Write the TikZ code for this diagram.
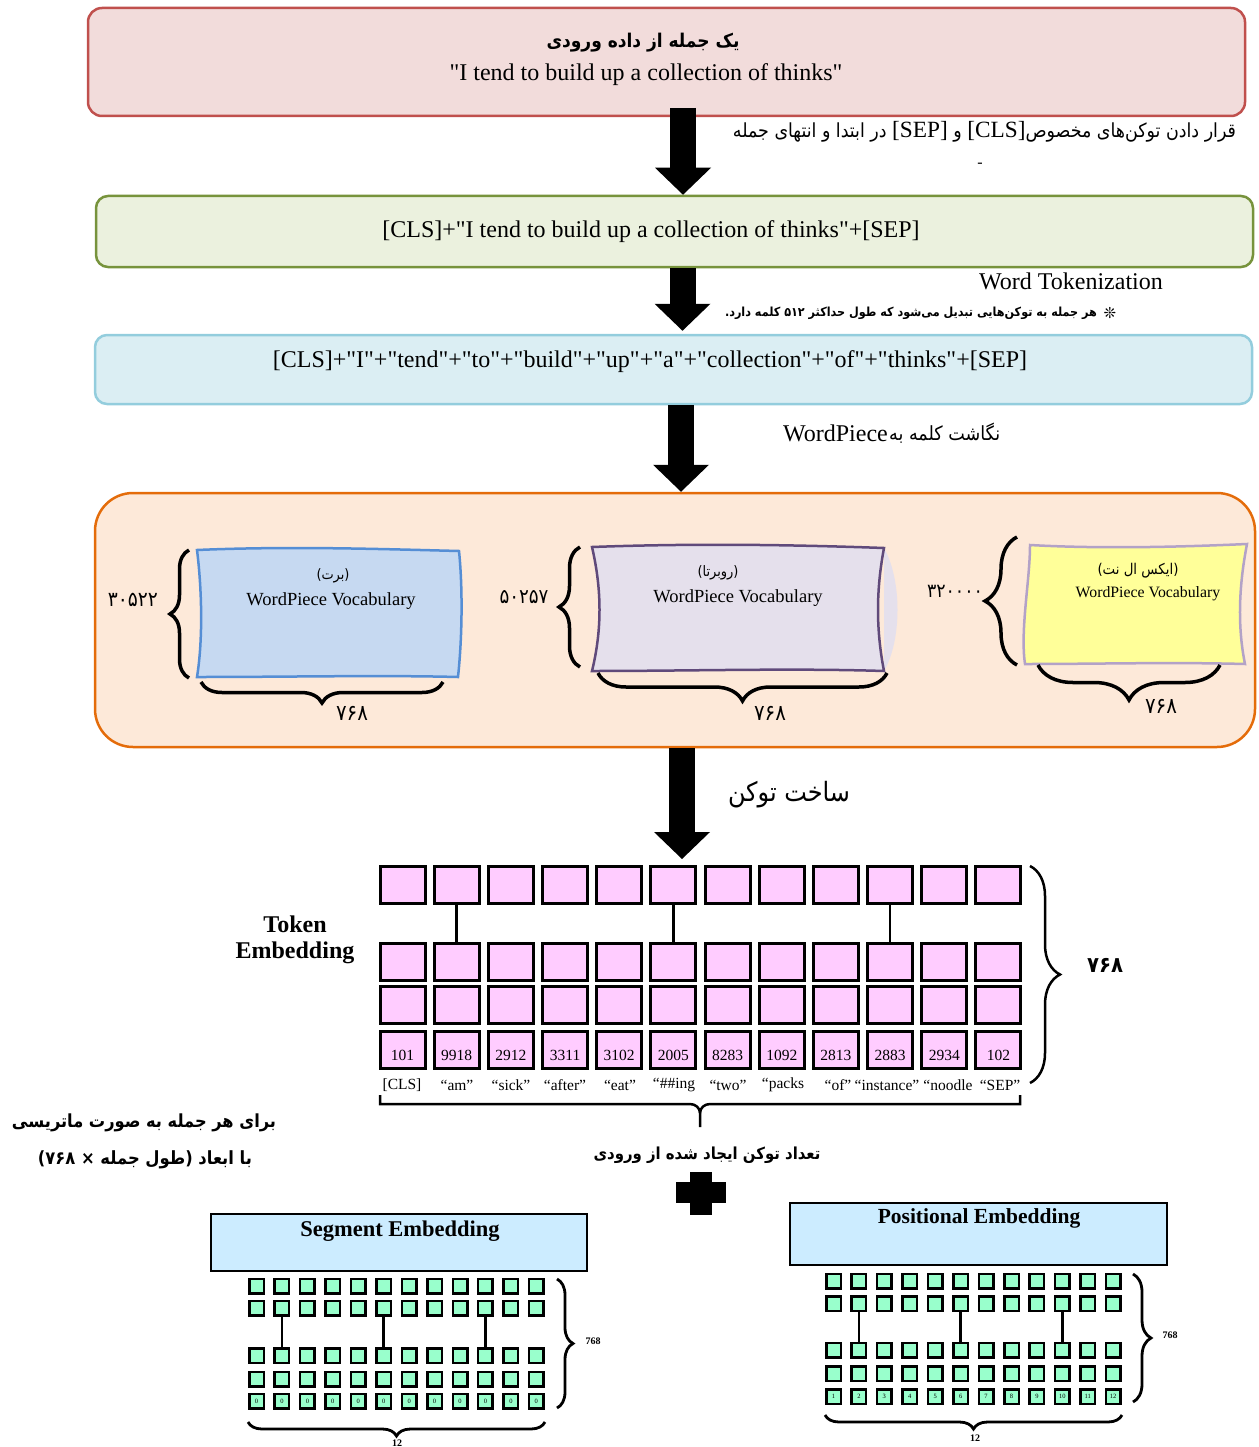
\documentclass[tikz,border=0pt]{standalone}
\usepackage{fontspec}
\usepackage{graphicx}
\setmainfont{Liberation Serif}[Ligatures=TeXOff]
\newfontfamily\fa[Script=Arabic]{DejaVu Sans Condensed}
\newfontfamily\symf{DejaVu Sans}
\TeXXeTstate=1
\usetikzlibrary{arrows.meta,decorations.pathreplacing,calc}
\newcommand\fitw[2]{\resizebox{#1}{!}{#2}}
\definecolor{boxAfill}{HTML}{F2DCDB}
\definecolor{boxAdraw}{HTML}{C0504D}
\definecolor{boxBfill}{HTML}{EBF1DE}
\definecolor{boxBdraw}{HTML}{77933C}
\definecolor{boxCfill}{HTML}{DBEEF3}
\definecolor{boxCdraw}{HTML}{93CDDD}
\definecolor{orfill}{HTML}{FDE9D9}
\definecolor{ordraw}{HTML}{E46C0A}
\definecolor{vbfill}{HTML}{C6D9F1}
\definecolor{vbdraw}{HTML}{558ED5}
\definecolor{vpfill}{HTML}{E5E0EC}
\definecolor{vpdraw}{HTML}{604A7B}
\definecolor{vyfill}{HTML}{FFFF99}
\definecolor{vydraw}{HTML}{B3A2C7}
\definecolor{tokpink}{HTML}{FFCCFF}
\definecolor{cellgreen}{HTML}{99FFCC}
\definecolor{hdrblue}{HTML}{CCECFF}
\begin{document}
\begin{tikzpicture}[x=1pt,y=-1pt,
  box/.style={draw, line width=2.5pt, rounded corners=14pt, inner sep=0pt},
  bigarrow/.style={line width=26pt, -{Triangle[width=56pt,length=27pt,line width=0pt]}},
  tcell/.style={draw, line width=3pt, fill=tokpink, minimum width=45pt, minimum height=37pt, inner sep=0pt},
  gcell/.style={draw, line width=2.5pt, fill=cellgreen, minimum size=14.5pt, inner sep=0pt, font=\fontsize{6.5}{7}\selectfont},
  tnum/.style={inner sep=0pt, font=\fontsize{15.5}{18}\selectfont},
  vbrace/.style={decorate, decoration={brace, amplitude=#1}, line width=3.5pt},
  sbrace/.style={decorate, decoration={brace, amplitude=#1}, line width=2.8pt},
  en/.style={inner sep=0pt, font=\fontsize{24}{28}\selectfont},
  vw/.style={inner sep=0pt, font=\fontsize{18.5}{22}\selectfont},
  small/.style={inner sep=0pt, font=\fontsize{10}{12}\selectfont\bfseries},
  pt/.style={inner sep=0pt}
]
\useasboundingbox (0,0) rectangle (1258,1447);

% ---- top boxes ----
\node[box, draw=boxAdraw, fill=boxAfill, minimum width=1157pt, minimum height=108pt] (b1) at (666.5,62) {};
\node[pt] (b1p) at (643,43) {\fa\bfseries\fitw{193pt}{\beginR یک جمله از داده ورودی\endR}};
\node[en] (b1e) at (646,75) {"I tend to build up a collection of thinks"};

\node[box, draw=boxBdraw, fill=boxBfill, minimum width=1157pt, minimum height=71pt, rounded corners=12pt] (b2) at (674.5,231.5) {};
\node[en] (b2e) at (651,232) {[CLS]+"I tend to build up a collection of thinks"+[SEP]};

\node[box, draw=boxCdraw, fill=boxCfill, minimum width=1157pt, minimum height=69pt, rounded corners=12pt] (b3) at (673.5,369.5) {};
\node[en] (b3e) at (650,362) {[CLS]+"I"+"tend"+"to"+"build"+"up"+"a"+"collection"+"of"+"thinks"+[SEP]};

% annotations
\node[pt] (n1) at (984.5,132) {\fa\fitw{503pt}{\beginR قرار دادن توکن‌های مخصوص\beginL{\rmfamily\fontsize{12}{14}\selectfont[CLS]}\endL{} و \beginL{\rmfamily\fontsize{12}{14}\selectfont[SEP]}\endL{} در ابتدا و انتهای جمله\endR}};
\node[pt, font=\fontsize{16}{18}\selectfont] (n1d) at (980,165) {-};
\node[en] (n2) at (1071,281) {Word Tokenization};
\node[pt] (n3) at (911,313) {\fa\bfseries\fitw{372pt}{\beginR هر جمله به توکن‌هایی تبدیل می‌شود که طول حداکثر ۵۱۲ کلمه دارد.\endR}};
\node[pt, font=\fontsize{15}{16}\selectfont\symf\bfseries] (n3s) at (1110,313) {❊};
\node[en, anchor=east] (n4a) at (888,433) {WordPiece};
\node[pt, anchor=west] (n4b) at (889,433) {\fa\fitw{111pt}{\beginR نگاشت کلمه به\endR}};

% ---- vocab container ----
\node[draw=ordraw, fill=orfill, line width=2.5pt, rounded corners=38pt, minimum width=1160pt, minimum height=254pt, inner sep=0pt] (orb) at (675,620) {};

% blue
\draw[line width=2.5pt, draw=vbdraw, fill=vbfill] (197,550) .. controls (290,546) and (380,549) .. (459,551) .. controls (463,590) and (462,640) .. (458,677) .. controls (380,675) and (290,677) .. (197,677) .. controls (203,640) and (202,590) .. (197,550) -- cycle;
\node[pt] (vb1) at (333,576) {\fa\fitw{33pt}{\beginR (برت)\endR}};
\node[vw] (vb2) at (331,601) {WordPiece Vocabulary};
\draw[vbrace=19pt] (189,678) -- (189,550);
\node[pt] (vbn) at (133,600) {\fa\fitw{50pt}{۳۰۵۲۲}};
\draw[vbrace=21pt] (443,682) -- (201,682);
\node[pt] (vbm) at (352,713) {\fa\fitw{32pt}{۷۶۸}};

% purple
\fill[vpfill] (884,548) .. controls (902,580) and (902,640) .. (884,671) -- cycle;
\draw[line width=2.5pt, draw=vpdraw, fill=vpfill] (592,547) .. controls (700,543) and (800,545) .. (884,548) .. controls (876,590) and (876,630) .. (884,671) .. controls (790,668) and (690,671) .. (592,671) .. controls (602,630) and (602,590) .. (592,547) -- cycle;
\node[pt] (vp1) at (718,573) {\fa\fitw{41pt}{\beginR (روبرتا)\endR}};
\node[vw] (vp2) at (738,598) {WordPiece Vocabulary};
\draw[vbrace=21pt] (580,667) -- (580,547);
\node[pt] (vpn) at (524,597) {\fa\fitw{49pt}{۵۰۲۵۷}};
\draw[vbrace=28pt] (887,673) -- (598,673);
\node[pt] (vpm) at (770,713) {\fa\fitw{32pt}{۷۶۸}};

% yellow
\draw[line width=2.5pt, draw=vydraw, fill=vyfill] (1030,545) .. controls (1100,549) and (1180,547) .. (1247,544) .. controls (1238,590) and (1238,630) .. (1245,664) .. controls (1170,662) and (1100,664) .. (1025,664) .. controls (1020,630) and (1030,580) .. (1030,545) -- cycle;
\node[pt] (vy1) at (1138,571) {\fa\fitw{81pt}{\beginR (ایکس ال نت)\endR}};
\node[pt, font=\fontsize{15.8}{18}\selectfont] (vy2) at (1148,594) {WordPiece Vocabulary};
\draw[vbrace=32pt] (1017,665) -- (1017,537);
\node[pt] (vyn) at (955,591) {\fa\fitw{56pt}{۳۲۰۰۰۰}};
\draw[vbrace=35pt] (1220,665) -- (1038,665);
\node[pt] (vym) at (1161,706) {\fa\fitw{32pt}{۷۶۸}};

% ---- arrows ----
\coordinate (a1s) at (683,108);
\coordinate (a2x) at (682.5,0);
\coordinate (a3x) at (681,0);
\coordinate (a4x) at (682,0);
\draw[bigarrow] (a1s) -- (a1s |- b2.north);
\draw[bigarrow] (a2x |- b2.south) -- ($(a2x |- b3.north)+(0,-3)$);
\draw[bigarrow] (a3x |- b3.south) -- (a3x |- orb.north);
\node[pt] (n5) at (789,795) {\fa\fitw{122pt}{\beginR ساخت توکن\endR}};

% ---- token embedding grid ----
\foreach \r/\yy in {1/885,2/961.5,3/1005,4/1050}{
  \foreach \c in {1,...,12}{
    \node[tcell] (t\r-\c) at ({402.5+54.18*(\c-1)},\yy) {};
  }
}
\draw[bigarrow] (a4x |- orb.south) -- ($(a4x |- t1-6.north)+(0,-6)$);
\foreach \c in {2,6,10}{
  \draw[line width=2.5pt] (t1-\c.south) -- (t2-\c.north);
}
\foreach \c/\n in {1/101,2/9918,3/2912,4/3311,5/3102,6/2005,7/8283,8/1092,9/2813,10/2883,11/2934,12/102}{
  \node[tnum] (tn\c) at ({402.5+54.18*(\c-1)},1055) {\n};
}
\foreach \c/\s/\xx in {1/{[CLS]}/402,2/{“am”}/457,3/{“sick”}/511,4/{“after”}/565,5/{“eat”}/620,6/{“\#\#ing}/674,7/{“two”}/728,8/{“packs}/783,9/{“of”}/838,10/{“instance”}/887,11/{“noodle}/948,12/{“SEP”}/1000}{
  \node[tnum] (tl\c) at (\xx,1085) {\s};
}
\node[align=center, font=\fontsize{24}{26}\selectfont\bfseries, inner sep=0pt] (te) at (295,940) {Token\\Embedding};
\draw[sbrace=30pt, line width=2.5pt] (1030,866) -- (1030,1083);
\node[pt] (t768) at (1105,965) {\fa\bfseries\fitw{36pt}{۷۶۸}};
\draw[line width=2.5pt] (380,1095) |- (690,1104) to[out=0,in=90] (700,1113) -- (700,1127);
\draw[line width=2.5pt] (1020,1095) |- (710,1104) to[out=180,in=90] (700,1113);

% left persian notes
\node[pt] (l1) at (144,1123) {\fa\bfseries\fitw{264pt}{\beginR برای هر جمله به صورت ماتریسی\endR}};
\node[pt] (l2) at (145,1160) {\fa\bfseries\fitw{214pt}{\beginR با ابعاد (طول جمله × ۷۶۸)\endR}};
\node[pt] (l3) at (707,1155) {\fa\bfseries\fitw{227pt}{\beginR تعداد توکن ایجاد شده از ورودی\endR}};

% plus
\fill (690,1172) rectangle (712,1215);
\fill (676,1182) rectangle (726,1203);

% ---- segment embedding ----
\node[draw, line width=2.5pt, fill=hdrblue, minimum width=376pt, minimum height=57pt, inner sep=0pt] (sh) at (399,1242.5) {};
\node[pt, font=\fontsize{22.5}{24}\selectfont\bfseries] (sht) at (400,1231) {Segment Embedding};
\foreach \r/\yy in {1/1286,2/1308.3,3/1355.7,4/1379}{
  \foreach \c in {1,...,12}{
    \node[gcell] (s\r-\c) at ({256.5+25.44*(\c-1)},\yy) {};
  }
}
\foreach \c in {1,...,12}{
  \node[gcell] (s5-\c) at ({256.5+25.44*(\c-1)},1401.3) {0};
}
\foreach \c in {2,6,10}{
  \draw[line width=2.5pt] (s2-\c.south) -- (s3-\c.north);
}
\draw[sbrace=16pt] (557,1279) -- (557,1408);
\node[small] (s768) at (593,1341) {768};
\draw[sbrace=14pt] (545,1422) -- (248,1422);
\node[small] (s12) at (397,1443) {12};

% ---- positional embedding ----
\node[draw, line width=2.5pt, fill=hdrblue, minimum width=377pt, minimum height=62pt, inner sep=0pt] (ph) at (978.5,1234) {};
\node[pt, font=\fontsize{21.5}{24}\selectfont\bfseries] (pht) at (979,1218) {Positional Embedding};
\foreach \r/\yy in {1/1281,2/1303.7,3/1350.3,4/1373.7}{
  \foreach \c in {1,...,12}{
    \node[gcell] (p\r-\c) at ({833.5+25.43*(\c-1)},\yy) {};
  }
}
\foreach \c in {1,...,12}{
  \node[gcell] (p5-\c) at ({833.5+25.43*(\c-1)},1396.7) {\c};
}
\foreach \c in {2,6,10}{
  \draw[line width=2.5pt] (p2-\c.south) -- (p3-\c.north);
}
\draw[sbrace=18pt] (1133,1274) -- (1133,1402);
\node[small] (p768) at (1170,1335) {768};
\draw[sbrace=14pt] (1122,1415) -- (825,1415);
\node[small] (p12) at (975,1438) {12};
\end{tikzpicture}
\end{document}
